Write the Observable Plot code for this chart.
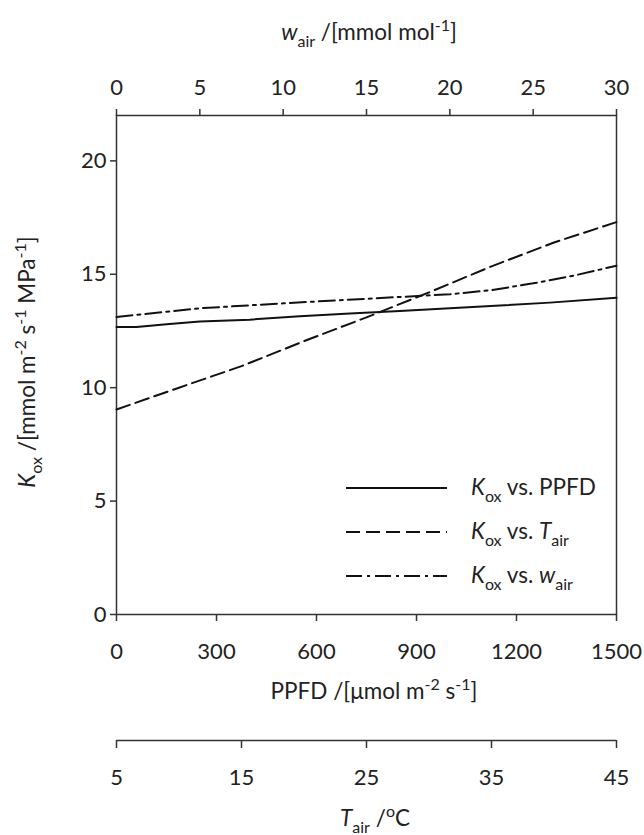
<!DOCTYPE html>
<html><head><meta charset="utf-8">
<script src="https://cdn.jsdelivr.net/npm/d3@7"></script>
<script src="https://cdn.jsdelivr.net/npm/@observablehq/plot@0.6"></script>
<style>
html,body{margin:0;padding:0;background:#fff;}
#chart{position:relative;width:644px;height:835px;font-family:Lato,"Open Sans",sans-serif;}
#chart > svg{position:absolute;left:0;top:0;margin:0;overflow:visible;}
</style></head><body><div id="chart"></div>
<script>
// ---- data ----
const ppfd   = [0, 60, 150, 250, 400, 550, 700, 850, 1000, 1150, 1300, 1500];
const kPpfd  = [12.68, 12.68, 12.8, 12.92, 13.0, 13.15, 13.27, 13.38, 13.5, 13.62, 13.75, 13.96];
const tAir   = [5, 10, 15, 20, 25, 30, 35, 40, 45];
const kTair  = [9.04, 10.0, 10.95, 12.05, 13.1, 14.2, 15.35, 16.4, 17.3];
const wAir   = [0, 5, 10, 15, 20, 22.5, 25, 27.5, 30];
const kWair  = [13.12, 13.5, 13.72, 13.92, 14.12, 14.3, 14.6, 14.95, 15.38];
const yTicks    = [0, 5, 10, 15, 20];
const ppfdTicks = [0, 300, 600, 900, 1200, 1500];
const tTicks    = [5, 15, 25, 35, 45];
const wTicks    = [0, 5, 10, 15, 20, 25, 30];

const ink = "#222";
const font = "Lato, 'Open Sans', sans-serif";
const fmt = d3.format("d");
const tickFont = 22;
const common = {
  width: 644, height: 835,
  marginTop: 115, marginBottom: 221, marginLeft: 116, marginRight: 28,
  style: {background: "transparent", fontFamily: font, color: ink, overflow: "visible"}
};
const yScale = {domain: [0, 22]};
const chart = document.getElementById("chart");

const ppfdData = ppfd.map((x, i) => ({x, y: kPpfd[i]}));
const tData = tAir.map((x, i) => ({x, y: kTair[i]}));
const wData = wAir.map((x, i) => ({x, y: kWair[i]}));

// Layer A: PPFD axis, y axis, frame, PPFD curve
chart.append(Plot.plot({
  ...common,
  x: {domain: [0, 1500]},
  y: yScale,
  marks: [
    Plot.frame({stroke: "#333", strokeWidth: 1.5}),
    Plot.axisY({ticks: yTicks, tickFormat: fmt, tickSize: 6, tickPadding: 4, fontSize: tickFont, label: null, stroke: "#333", strokeWidth: 1.5}),
    Plot.axisX({ticks: ppfdTicks, tickFormat: fmt, anchor: "bottom", tickSize: 7, tickPadding: 22, fontSize: tickFont, label: null, stroke: "#333", strokeWidth: 1.5}),
    Plot.line(ppfdData, {x: "x", y: "y", stroke: "#111", strokeWidth: 2})
  ]
}));

// Layer B: w_air top axis and curve
chart.append(Plot.plot({
  ...common,
  x: {domain: [0, 30]},
  y: {...yScale, axis: null},
  marks: [
    Plot.axisX({ticks: wTicks, tickFormat: fmt, anchor: "top", tickSize: 7, tickPadding: 14, fontSize: tickFont, label: null, stroke: "#333", strokeWidth: 1.5}),
    Plot.line(wData, {x: "x", y: "y", stroke: "#111", strokeWidth: 2, strokeDasharray: "16,5,3,5"})
  ]
}));

// Layer C: T_air curve
chart.append(Plot.plot({
  ...common,
  x: {domain: [5, 45], axis: null},
  y: {...yScale, axis: null},
  marks: [
    Plot.line(tData, {x: "x", y: "y", stroke: "#111", strokeWidth: 2, strokeDasharray: "14,6"})
  ]
}));

// Layer D: separate T_air axis below
chart.append(Plot.plot({
  width: 644, height: 835,
  marginTop: 115, marginBottom: 95, marginLeft: 116, marginRight: 28,
  style: {background: "transparent", fontFamily: font, color: ink, overflow: "visible"},
  x: {domain: [5, 45]},
  y: {domain: [0, 1], axis: null},
  marks: [
    Plot.ruleY([0], {stroke: "#333", strokeWidth: 1.5}),
    Plot.axisX({ticks: tTicks, tickFormat: fmt, anchor: "bottom", tickSize: 8, tickPadding: 21, fontSize: tickFont, label: null, stroke: "#333", strokeWidth: 1.5})
  ]
}));

// Layer E: rich-text titles and legend
const svg = d3.create("svg").attr("width", 644).attr("height", 835)
  .attr("font-family", font).attr("fill", ink);

function rich(g, parts) {
  let shift = 0;
  for (const [t, k] of parts) {
    const target = k === "sub" ? 7 : k === "sup" ? -9 : 0;
    const ts = g.append("tspan").text(t).attr("dy", target - shift);
    shift = target;
    if (k === "sub" || k === "sup") ts.attr("font-size", 16);
    if (k === "i") ts.attr("font-style", "italic");
  }
}

// top title
rich(svg.append("text").attr("x", 369).attr("y", 40).attr("text-anchor", "middle").attr("font-size", 22.5),
  [["w", "i"], ["air", "sub"], [" /[mmol mol", "n"], ["-1", "sup"], ["]", "n"]]);
// PPFD title
rich(svg.append("text").attr("x", 374).attr("y", 699).attr("text-anchor", "middle").attr("font-size", 22.5),
  [["PPFD /[\u03bcmol m", "n"], ["-2", "sup"], [" s", "n"], ["-1", "sup"], ["]", "n"]]);
// T title
rich(svg.append("text").attr("x", 375).attr("y", 826).attr("text-anchor", "middle").attr("font-size", 22.5),
  [["T", "i"], ["air", "sub"], [" /", "n"], ["o", "sup"], ["C", "n"]]);
// y title
rich(svg.append("text").attr("transform", "translate(35,362) rotate(-90)").attr("text-anchor", "middle").attr("font-size", 22.5),
  [["K", "i"], ["ox", "sub"], [" /[mmol m", "n"], ["-2", "sup"], [" s", "n"], ["-1", "sup"], [" MPa", "n"], ["-1", "sup"], ["]", "n"]]);

// legend
const legendItems = [
  {dash: null, parts: [["K", "i"], ["ox", "sub"], [" vs. PPFD", "n"]]},
  {dash: "14,6", parts: [["K", "i"], ["ox", "sub"], [" vs. ", "n"], ["T", "i"], ["air", "sub"]]},
  {dash: "16,5,3,5", parts: [["K", "i"], ["ox", "sub"], [" vs. ", "n"], ["w", "i"], ["air", "sub"]]}
];
legendItems.forEach((it, i) => {
  const y = 488 + i * 44;
  const ln = svg.append("line").attr("x1", 346).attr("x2", 447).attr("y1", y).attr("y2", y)
    .attr("stroke", "#111").attr("stroke-width", 2);
  if (it.dash) ln.attr("stroke-dasharray", it.dash);
  rich(svg.append("text").attr("x", 471).attr("y", y + 7).attr("font-size", 22.5), it.parts);
});
chart.append(svg.node());
</script>
</body></html>
